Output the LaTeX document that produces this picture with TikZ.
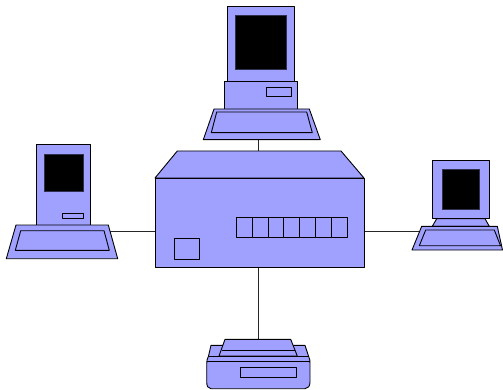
\documentclass[tikz,border=0pt]{standalone}
\definecolor{devfill}{HTML}{A0A0FF}
\tikzset{
  dev/.style={draw=black,fill=devfill,line width=0.9pt,line join=round},
  scr/.style={draw=black!70!devfill,fill=black,line width=0.8pt},
  wire/.style={draw=black!85,line width=0.9pt}
}
\begin{document}
\begin{tikzpicture}[x=1pt,y=-1pt]
\useasboundingbox (0,0) rectangle (503,390);
% connection points
\coordinate (hubN) at (258,151);
\coordinate (hubS) at (258.3,267);
\coordinate (hubW) at (155,231.5);
\coordinate (hubE) at (364,231.7);
\coordinate (topS) at (258,139.7);
\coordinate (leftE) at (110,231.5);
\coordinate (rightW) at (420,231.7);
\coordinate (prnN) at (258.3,339.3);
\draw[wire] (hubN) -- (topS);
\draw[wire] (hubS) -- (prnN);
\draw[wire] (hubW) -- (leftE);
\draw[wire] (hubE) -- (rightW);
% central unit
\draw[dev] (155,178) -- (177.3,151) -- (341,151) -- (364,178) -- cycle;
\draw[dev] (155,178) rectangle (364,267);
\draw[dev] (174,238.7) rectangle (199.3,259.7);
\draw[dev] (236.3,217) rectangle (347,237.3);
\foreach \x in {252.3,268,283.7,299.7,315.3,331} \draw[dev] (\x,217) -- (\x,237.3);
% top computer
\draw[dev] (227.3,6.7) rectangle (294.3,81.3);
\draw[scr] (235,15.3) rectangle (286,69);
\draw[dev] (224.7,81.3) rectangle (297.7,109);
\draw[dev] (266,87.3) rectangle (291.3,96.3);
\draw[dev] (214,109) -- (309.3,109) -- (320.3,139.7) -- (203.3,139.7) -- cycle;
\draw[dev] (216.7,112) -- (306.7,112) -- (312.3,132.7) -- (211.3,132.7) -- cycle;
% left computer
\draw[dev] (36.3,144) rectangle (90.7,225);
\draw[scr] (44.3,154) rectangle (83.3,191);
\draw[dev] (62.3,213.3) rectangle (83.3,218.3);
\draw[dev] (16,225) -- (108.3,225) -- (117.7,258.7) -- (6.3,258.7) -- cycle;
\draw[dev] (20.7,230.7) -- (104,230.7) -- (109.3,250.3) -- (15.3,250.3) -- cycle;
% right computer
\draw[dev] (436.7,218.7) -- (485,218.7) -- (489.3,226.3) -- (432.3,226.3) -- cycle;
\draw[dev] (432.3,160) rectangle (489.3,218.7);
\draw[scr] (442,169) rectangle (479.3,209.3);
\draw[dev] (421.7,226.3) -- (497.3,226.3) -- (502.5,250) -- (412,250) -- cycle;
\draw[dev] (425.7,230) -- (494.3,230) -- (500.5,245.7) -- (419.3,245.7) -- cycle;
% printer
\draw[dev] (211,345.3) -- (305,345.3) -- (308.5,356) .. controls (310,359) and (310,361) .. (310,364) -- (310,382) .. controls (310,386) and (308,388.7) .. (305,388.7) -- (211,388.7) .. controls (208,388.7) and (206.7,386) .. (206.7,382) -- (206.7,364) .. controls (206.7,361) and (207,359) .. (208.5,356) -- cycle;
\draw[dev] (225,339.3) -- (290.7,339.3) -- (297.3,356) -- (219,356) -- cycle;
\draw[dev] (222,350.3) -- (295,350.3);
\draw[dev] (208.5,356) -- (308.5,356);
\draw[dev] (206.9,361.7) -- (309.8,361.7);
\draw[dev] (240.7,367) rectangle (296.3,377.3);
\end{tikzpicture}
\end{document}
